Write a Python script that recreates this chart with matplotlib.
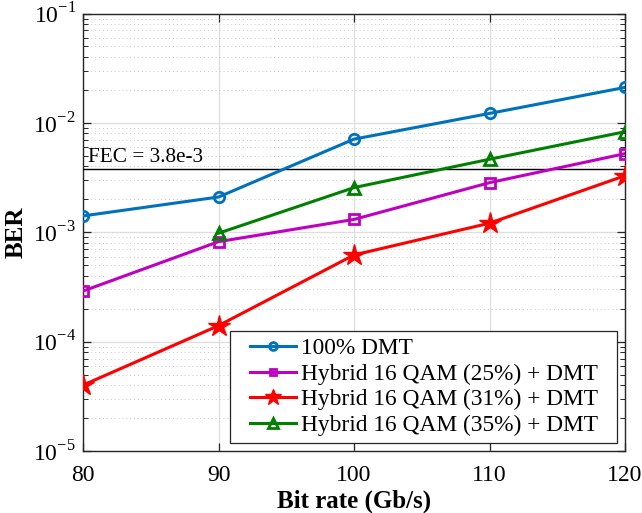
import matplotlib
matplotlib.use("Agg")
import matplotlib.pyplot as plt
from matplotlib.ticker import LogLocator, NullFormatter, FixedLocator
from matplotlib.legend_handler import HandlerLine2D
from matplotlib.lines import Line2D

bit_rate = [80, 90, 100, 110, 120]
ber_dmt = [1.41e-3, 2.1e-3, 7.1e-3, 1.22e-2, 2.11e-2]
bit_rate_35 = [90, 100, 110, 120]
ber_h25 = [2.9e-4, 8.2e-4, 1.31e-3, 2.84e-3, 5.23e-3]
ber_h31 = [4.0e-5, 1.4e-4, 6.2e-4, 1.21e-3, 3.29e-3]
ber_h35 = [9.8e-4, 2.56e-3, 4.65e-3, 8.3e-3]
fec = 3.8e-3
labels = ["100% DMT", "Hybrid 16 QAM (25%) + DMT",
          "Hybrid 16 QAM (31%) + DMT", "Hybrid 16 QAM (35%) + DMT"]

plt.rcParams['font.family'] = ['Liberation Serif', 'DejaVu Serif']
plt.rcParams['mathtext.fontset'] = 'custom'
plt.rcParams['mathtext.rm'] = 'Liberation Serif'

fig = plt.figure(figsize=(6.42, 5.13), dpi=100)
ax = fig.add_axes([83/642, 1 - 451/513, (625-83)/642, (451-13.5)/513])

ax.plot(bit_rate, ber_dmt, '-o', color='#0072BD', lw=2.2, ms=7.5,
        mfc='none', mew=2, label=labels[0] + '  ', zorder=5)
ax.plot(bit_rate, ber_h25, '-s', color='#C000C0', lw=2.2, ms=6.5,
        mfc='none', mew=2, label=labels[1] + '  ', zorder=5)
ax.plot(bit_rate, ber_h31, '-*', color='#FF0000', lw=2.2, ms=16,
        mfc='#FF0000', mec='#FF0000', mew=1, label=labels[2] + '  ', zorder=5)
ax.plot(bit_rate_35, ber_h35, '-^', color='#008000', lw=2.2, ms=9,
        mfc='none', mew=2, label=labels[3] + '  ', zorder=5)

ax.axhline(fec, color='black', lw=1, zorder=4)
ax.text(80.35, fec * 1.05, "FEC = 3.8e-3", fontsize=15.3, va='bottom', ha='left')

ax.set_yscale('log')
ax.set_xlim(80, 120)
ax.set_ylim(1e-5, 1e-1)
ax.xaxis.set_major_locator(FixedLocator(bit_rate))
ax.yaxis.set_major_locator(LogLocator(base=10, numticks=10))
ax.yaxis.set_minor_locator(LogLocator(base=10, subs=range(2, 10), numticks=20))
ax.yaxis.set_minor_formatter(NullFormatter())
ax.set_yticks([1e-5, 1e-4, 1e-3, 1e-2, 1e-1])
ax.set_yticklabels([r'$10^{-5}$', r'$10^{-4}$', r'$10^{-3}$', r'$10^{-2}$', r'$10^{-1}$'])

ax.grid(True, which='major', color='#dedede', lw=0.9, ls='-')
ax.grid(True, which='minor', axis='y', color='#c8c8c8', lw=0.7, ls=(0, (1, 3)))
ax.set_axisbelow(True)

ax.tick_params(which='both', direction='in', top=True, right=True,
               labelsize=17, color='#262626')
ax.tick_params(which='major', length=6, width=0.9)
ax.tick_params(which='minor', length=3.5, width=0.7)
ax.tick_params(axis='x', pad=10)
ax.tick_params(axis='y', pad=5)
for s in ax.spines.values():
    s.set_color('#262626')
    s.set_linewidth(1.0)

ax.set_xlabel('Bit rate (Gb/s)', fontsize=18, fontweight='bold', labelpad=3)
ax.set_ylabel('BER', fontsize=18, fontweight='bold', labelpad=4)

leg = ax.legend(loc='lower right', fontsize=16.8, fancybox=False, framealpha=1,
                edgecolor='#262626', borderpad=0.3, labelspacing=0.18,
                handlelength=2.5, handletextpad=0.25, borderaxespad=0.35,
                markerscale=0.75, bbox_to_anchor=(1.0, 0.0),
                handler_map={Line2D: HandlerLine2D(xpad=0.56)})
leg.get_frame().set_linewidth(0.9)

fig.savefig('out.png', dpi=100)
